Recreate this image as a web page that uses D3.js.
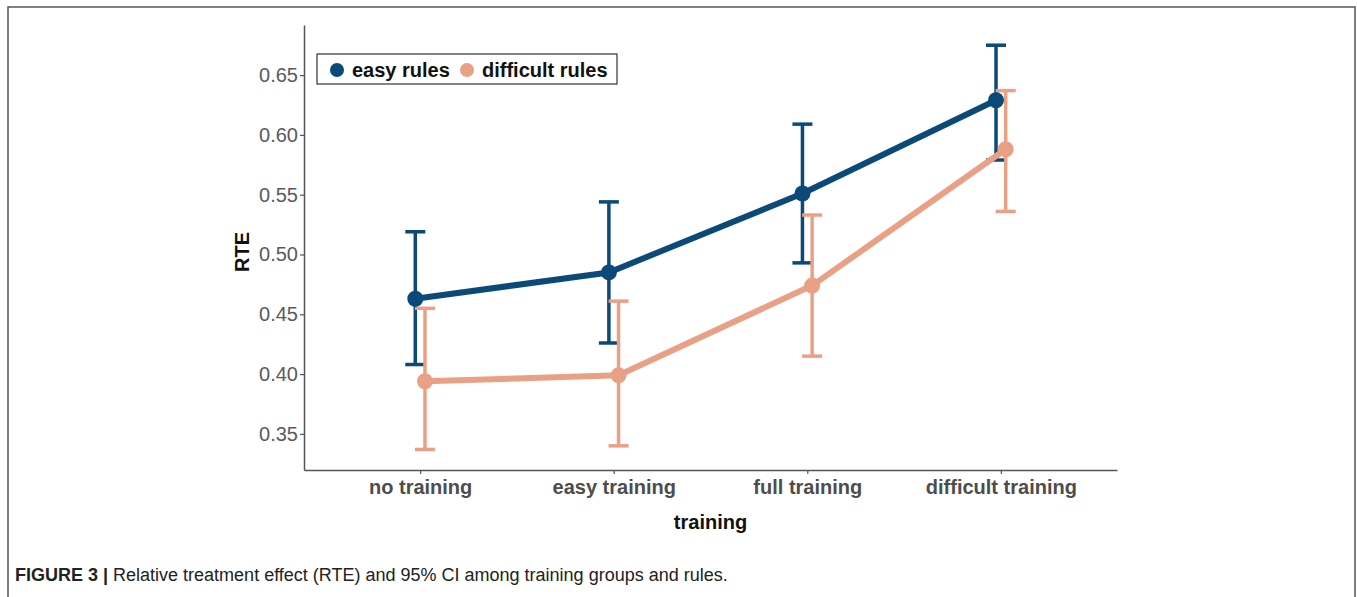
<!DOCTYPE html>
<html>
<head>
<meta charset="utf-8">
<script src="https://cdn.jsdelivr.net/npm/d3@7"></script>
<style>
  body { margin: 0; background: #fff; }
  text { font-family: "Liberation Sans", Arial, sans-serif; }
</style>
</head>
<body>
<div id="chart"></div>
<script>
const width = 1357, height = 597;

// data
const groups = ["no training", "easy training", "full training", "difficult training"];
const rules = ["easy rules", "difficult rules"];
const ruleColors = ["#0b4a78", "#e9a085"];
const easyRte = [0.463, 0.485, 0.551, 0.629];
const easyLow = [0.408, 0.426, 0.493, 0.579];
const easyHigh = [0.519, 0.544, 0.609, 0.675];
const diffRte = [0.394, 0.399, 0.474, 0.588];
const diffLow = [0.337, 0.340, 0.415, 0.536];
const diffHigh = [0.455, 0.461, 0.533, 0.637];
const yTicks = [0.35, 0.40, 0.45, 0.50, 0.55, 0.60, 0.65];

const series = [
  { rule: rules[0], color: ruleColors[0], dodge: -1, pts: groups.map((g, i) => ({ g, v: easyRte[i], lo: easyLow[i], hi: easyHigh[i] })) },
  { rule: rules[1], color: ruleColors[1], dodge: 1, pts: groups.map((g, i) => ({ g, v: diffRte[i], lo: diffLow[i], hi: diffHigh[i] })) }
];

const margin = { left: 304, right: 1117, top: 25, bottom: 470 };

const svg = d3.select("#chart").append("svg")
  .attr("width", width)
  .attr("height", height);

// figure frame
svg.append("rect")
  .attr("x", 8).attr("y", 7)
  .attr("width", 1347).attr("height", 620)
  .attr("fill", "none")
  .attr("stroke", "#555")
  .attr("stroke-width", 1.5);

const x = d3.scalePoint().domain(groups).range([margin.left, margin.right]).padding(0.6);
const y = d3.scaleLinear().domain([0.3198, 0.6919]).range([margin.bottom, margin.top]);
const dodgeW = x.step() * 0.025;
const xd = (d, s) => x(d.g) + s.dodge * dodgeW;

// axes
const yAxis = svg.append("g")
  .attr("transform", `translate(${margin.left},0)`)
  .call(d3.axisLeft(y).tickValues(yTicks).tickFormat(d3.format(".2f")).tickSize(4).tickSizeOuter(0));
const xAxis = svg.append("g")
  .attr("transform", `translate(0,${margin.bottom})`)
  .call(d3.axisBottom(x).tickSize(4).tickSizeOuter(0));

[yAxis, xAxis].forEach(a => {
  a.select(".domain").attr("stroke", "#555").attr("stroke-width", 1.5);
  a.selectAll(".tick line").attr("stroke", "#555").attr("stroke-width", 1.2);
});
yAxis.selectAll(".tick text")
  .attr("x", -6)
  .attr("fill", "#5a5a5a")
  .style("font-size", "20px");
xAxis.selectAll(".tick text")
  .attr("y", 10)
  .attr("dy", "0.71em")
  .attr("fill", "#4d4d4d")
  .style("font-size", "20px")
  .style("font-weight", "bold");

// axis titles
svg.append("text")
  .attr("transform", "translate(249,252) rotate(-90)")
  .attr("text-anchor", "middle")
  .style("font-size", "20px")
  .style("font-weight", "bold")
  .attr("fill", "#111")
  .text("RTE");
svg.append("text")
  .attr("x", (margin.left + margin.right) / 2)
  .attr("y", 529)
  .attr("text-anchor", "middle")
  .style("font-size", "20px")
  .style("font-weight", "bold")
  .attr("fill", "#111")
  .text("training");

// error bars
series.forEach(s => {
  const eb = svg.append("g").attr("stroke", s.color).attr("stroke-width", 3.5);
  eb.selectAll(".v").data(s.pts).join("line")
    .attr("x1", d => xd(d, s)).attr("x2", d => xd(d, s))
    .attr("y1", d => y(d.lo)).attr("y2", d => y(d.hi));
  eb.selectAll(".hi").data(s.pts).join("line")
    .attr("x1", d => xd(d, s) - 10).attr("x2", d => xd(d, s) + 10)
    .attr("y1", d => y(d.hi)).attr("y2", d => y(d.hi));
  eb.selectAll(".lo").data(s.pts).join("line")
    .attr("x1", d => xd(d, s) - 10).attr("x2", d => xd(d, s) + 10)
    .attr("y1", d => y(d.lo)).attr("y2", d => y(d.lo));
});

// lines
const line = s => d3.line().x(d => xd(d, s)).y(d => y(d.v));
series.forEach(s => {
  svg.append("path")
    .datum(s.pts)
    .attr("d", line(s))
    .attr("fill", "none")
    .attr("stroke", s.color)
    .attr("stroke-width", 6)
    .attr("stroke-linejoin", "round");
});

// points
series.forEach(s => {
  svg.append("g").selectAll("circle").data(s.pts).join("circle")
    .attr("cx", d => xd(d, s))
    .attr("cy", d => y(d.v))
    .attr("r", 8)
    .attr("fill", s.color);
});

// legend
const legend = svg.append("g");
legend.append("rect")
  .attr("x", 317).attr("y", 54)
  .attr("width", 300).attr("height", 30)
  .attr("fill", "#fff")
  .attr("stroke", "#333")
  .attr("stroke-width", 1.2);
const legX = [337, 467];
rules.forEach((r, i) => {
  legend.append("circle")
    .attr("cx", legX[i]).attr("cy", 70)
    .attr("r", 7)
    .attr("fill", ruleColors[i]);
  legend.append("text")
    .attr("x", legX[i] + 15).attr("y", 77)
    .style("font-size", "20px")
    .style("font-weight", "bold")
    .attr("fill", "#111")
    .text(r);
});

// caption
const cap = svg.append("text")
  .attr("x", 15).attr("y", 581)
  .style("font-size", "18px")
  .attr("fill", "#222");
cap.append("tspan").style("font-weight", "bold").text("FIGURE 3 | ");
cap.append("tspan").text("Relative treatment effect (RTE) and 95% CI among training groups and rules.");
</script>
</body>
</html>
